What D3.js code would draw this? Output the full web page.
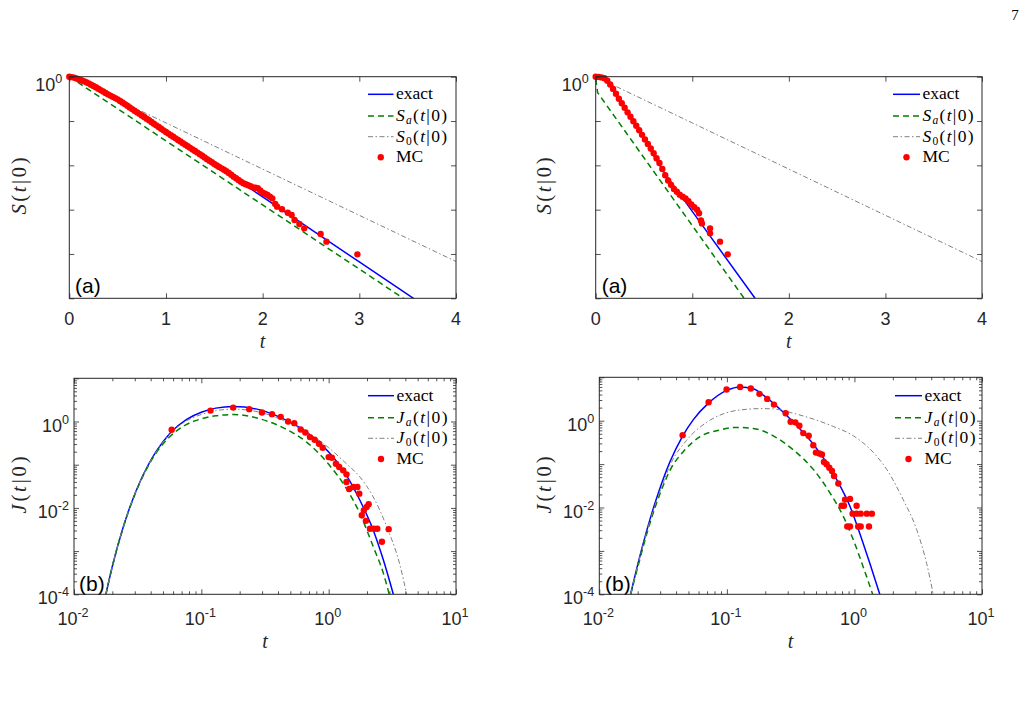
<!DOCTYPE html>
<html>
<head>
<meta charset="utf-8">
<script src="https://cdn.jsdelivr.net/npm/d3@7"></script>
<style>
  body { margin: 0; background: #fff; }
  svg { display: block; }
</style>
</head>
<body>
<div id="fig"></div>
<script>
// ---- data ----
// top left, survival S(t|0)
var tlExactT = [0, 0.05, 0.1, 0.2, 0.3, 0.4, 0.5, 1, 2, 3, 3.6];
var tlExactS = [1, 0.966, 0.891, 0.708, 0.537, 0.407, 0.308, 0.0569, 0.00194, 0.0000661, 0.00000871];
var tlApproxT = [0, 1, 2, 3, 3.5];
var tlApproxS = [1, 0.0357, 0.00128, 0.0000456, 0.00000861];
var tlFreeT = [0, 1, 2, 3, 4];
var tlFreeS = [1, 0.0906, 0.00822, 0.000745, 0.0000676];
var tlMcT = [0, 0.025, 0.05, 0.075, 0.1, 0.125, 0.15, 0.175, 0.2, 0.225, 0.25, 0.275, 0.3, 0.325, 0.35, 0.375, 0.4, 0.425, 0.45, 0.475,
    0.5, 0.525, 0.55, 0.575, 0.6, 0.625, 0.65, 0.675, 0.7, 0.725, 0.75, 0.775, 0.8, 0.825, 0.85, 0.875, 0.9, 0.925, 0.95, 0.975,
    1, 1.025, 1.05, 1.075, 1.1, 1.125, 1.15, 1.175, 1.2, 1.225, 1.25, 1.275, 1.3, 1.325, 1.35, 1.375, 1.4, 1.425, 1.45, 1.475,
    1.5, 1.525, 1.55, 1.575, 1.6, 1.625, 1.65, 1.675, 1.7, 1.725, 1.75, 1.775, 1.8, 1.825, 1.85, 1.875, 1.9, 1.925, 1.95, 1.975,
    2, 2.025, 2.05, 2.075, 2.1, 2.13, 2.15, 2.2, 2.26, 2.3, 2.33, 2.38, 2.43, 2.6, 2.66, 2.98];
var tlMcS = [1, 0.977, 0.955, 0.912, 0.871, 0.832, 0.794, 0.750, 0.708, 0.662, 0.619, 0.576, 0.536, 0.498, 0.462, 0.430, 0.400, 0.375, 0.351, 0.329,
    0.308, 0.284, 0.262, 0.241, 0.222, 0.203, 0.186, 0.171, 0.157, 0.145, 0.133, 0.123, 0.113, 0.104, 0.0951, 0.0871, 0.0798, 0.0732, 0.0671, 0.0616,
    0.0565, 0.0520, 0.0479, 0.0441, 0.0406, 0.0374, 0.0345, 0.0317, 0.0292, 0.0269, 0.0248, 0.0228, 0.0210, 0.0194, 0.0179, 0.0164, 0.0151, 0.0138, 0.0127, 0.0117,
    0.0107, 0.00994, 0.00923, 0.00856, 0.00794, 0.00733, 0.00676, 0.00613, 0.00555, 0.00510, 0.00468, 0.00429, 0.00393, 0.00374, 0.00355, 0.00337, 0.00319, 0.00311, 0.00303, 0.00271,
    0.00242, 0.00228, 0.00214, 0.00196, 0.00180, 0.00134, 0.00117, 0.00102, 0.000855, 0.000759, 0.000585, 0.000475, 0.000379, 0.000282, 0.000190, 0.0000982];

// top right, survival S(t|0)
var trExactT = [0, 0.062, 0.131, 0.2, 0.286, 0.39, 0.494, 0.597, 0.701, 1.0, 1.65];
var trExactS = [1, 0.948, 0.759, 0.459, 0.230, 0.102, 0.0414, 0.0171, 0.00733, 0.000912, 0.00001];
var trApproxT = [0, 0.02, 0.5, 1, 1.54];
var trApproxS = [0.89, 0.437, 0.0148, 0.000437, 0.00000977];
var trFreeT = [0, 1, 2, 3, 4];
var trFreeS = [1, 0.0906, 0.00822, 0.000745, 0.0000676];
var trMcT = [0, 0.03, 0.06, 0.09, 0.12, 0.15, 0.18, 0.21, 0.24, 0.27, 0.3, 0.33, 0.36, 0.39, 0.42, 0.45, 0.48, 0.51,
    0.54, 0.57, 0.6, 0.63, 0.66, 0.69, 0.72, 0.75, 0.78, 0.81, 0.84, 0.87, 0.9, 0.93, 0.96, 0.99, 1.02, 1.05,
    1.07, 1.09, 1.10, 1.184, 1.184, 1.287, 1.367];
var trMcS = [1, 0.989, 0.964, 0.925, 0.815, 0.667, 0.530, 0.411, 0.318, 0.251, 0.199, 0.157, 0.125, 0.0986, 0.0780, 0.0617, 0.0488, 0.0385,
    0.0305, 0.0240, 0.0187, 0.0145, 0.0113, 0.00828, 0.00598, 0.00455, 0.00363, 0.00294, 0.00253, 0.00218, 0.00196, 0.00178, 0.00155, 0.00131, 0.00113, 0.00100,
    0.000832, 0.000571, 0.000490, 0.000379, 0.000292, 0.000190, 0.0000982];

// bottom left, density J(t|0)
var blExactT = [0.0178, 0.02, 0.0244, 0.028, 0.033, 0.0385, 0.0446, 0.0568, 0.0767, 0.1, 0.13, 0.178, 0.289, 0.441, 0.671, 1, 1.38, 1.76, 2.24, 2.69, 3.22];
var blExactJ = [1e-4, 0.000447, 0.00367, 0.0122, 0.0403, 0.102, 0.211, 0.535, 1.12, 1.64, 2.04, 2.22, 1.86, 1.15, 0.568, 0.196, 0.0568, 0.0150, 0.00305, 0.000620, 1e-4];
var blApproxT = [0.0178, 0.02, 0.0244, 0.028, 0.033, 0.0385, 0.0446, 0.0568, 0.0767, 0.1, 0.13, 0.178, 0.289, 0.441, 0.671, 1, 1.38, 1.76, 2.24, 2.69, 2.99];
var blApproxJ = [1e-4, 0.000440, 0.00360, 0.0119, 0.0390, 0.097, 0.196, 0.45, 0.86, 1.15, 1.36, 1.45, 1.15, 0.714, 0.334, 0.102, 0.0279, 0.00740, 0.00126, 0.000305, 1e-4];
var blFreeT = [0.0178, 0.02, 0.0244, 0.028, 0.033, 0.0385, 0.0446, 0.0568, 0.0767, 0.1, 0.13, 0.178, 0.289, 0.441, 0.671, 1, 1.38, 1.76, 2.24, 2.86, 3.63, 4.10];
var blFreeJ = [1e-4, 0.000447, 0.00367, 0.0122, 0.0403, 0.101, 0.207, 0.52, 1.04, 1.45, 1.78, 1.93, 1.64, 1.05, 0.568, 0.247, 0.105, 0.0519, 0.0179, 0.00364, 0.000475, 1e-4];
var blMcT = [0.0585, 0.118, 0.178, 0.238, 0.299, 0.359, 0.420, 0.480, 0.537, 0.603, 0.656, 0.713, 0.776, 0.839, 0.897, 1.0, 1.06, 1.14,
    1.21, 1.30, 1.38, 1.38, 1.45, 1.56, 1.68, 1.74, 1.82, 1.89, 1.99, 2.06, 1.96, 2.11, 2.27, 2.41, 2.62, 2.96];
var blMcJ = [0.642, 1.79, 2.10, 1.93, 1.61, 1.48, 1.28, 1.00, 0.915, 0.654, 0.557, 0.435, 0.377, 0.305, 0.247, 0.150, 0.145, 0.105,
    0.0883, 0.0740, 0.0598, 0.0398, 0.0274, 0.0305, 0.0305, 0.0214, 0.00677, 0.00883, 0.0105, 0.0122, 0.00501, 0.00328, 0.00328, 0.00328, 0.00164, 0.00322];

// bottom right, density J(t|0)
var brExactT = [0.0176, 0.02, 0.0235, 0.0275, 0.0317, 0.0358, 0.045, 0.055, 0.0714, 0.0997, 0.127, 0.161, 0.207, 0.277, 0.374, 0.476, 0.605, 0.725, 0.922, 1.10, 1.32, 1.58];
var brExactJ = [1e-4, 0.00048, 0.00288, 0.0134, 0.0456, 0.113, 0.443, 1.09, 2.51, 5.0, 6.0, 5.43, 3.30, 1.56, 0.641, 0.288, 0.108, 0.0443, 0.0107, 0.00256, 0.000517, 1e-4];
var brApproxT = [0.0176, 0.02, 0.0235, 0.0275, 0.0317, 0.0358, 0.0455, 0.0617, 0.0883, 0.119, 0.161, 0.231, 0.332, 0.476, 0.643, 0.818, 0.980, 1.17, 1.39];
var brApproxJ = [1e-4, 0.00042, 0.0024, 0.0105, 0.032, 0.072, 0.193, 0.428, 0.611, 0.70, 0.664, 0.449, 0.212, 0.0756, 0.0217, 0.00625, 0.00180, 0.000432, 1e-4];
var brFreeT = [0.0176, 0.02, 0.0235, 0.0275, 0.0317, 0.0358, 0.0484, 0.0714, 0.106, 0.143, 0.180, 0.231, 0.332, 0.476, 0.682, 0.980, 1.41, 1.79, 2.41, 3.08, 3.68, 4.15];
var brFreeJ = [1e-4, 0.00046, 0.0027, 0.012, 0.037, 0.093, 0.355, 0.968, 1.61, 1.83, 1.9, 1.87, 1.48, 1.09, 0.739, 0.449, 0.184, 0.0756, 0.0152, 0.00306, 0.000517, 1e-4];
var brMcT = [0.0450, 0.0719, 0.0995, 0.127, 0.154, 0.180, 0.207, 0.234, 0.289, 0.316, 0.344, 0.370, 0.397, 0.438, 0.476, 0.499, 0.531, 0.556, 0.577, 0.605,
    0.635, 0.667, 0.692, 0.748, 0.844, 0.923, 0.794, 0.828, 1.04, 0.968, 1.04, 1.12, 1.25, 1.37, 0.879, 0.923, 1.07, 1.12, 1.30];
var brMcJ = [0.465, 2.66, 5.24, 6.0, 5.5, 4.16, 3.18, 2.35, 1.48, 0.948, 0.915, 0.766, 0.518, 0.449, 0.272, 0.184, 0.175, 0.166, 0.112, 0.0989,
    0.0827, 0.0692, 0.0530, 0.0358, 0.0152, 0.0158, 0.0110, 0.0110, 0.0110, 0.00721, 0.00721, 0.00721, 0.00721, 0.00721, 0.00366, 0.00366, 0.00366, 0.00366, 0.00366];

// ticks
var linXTicks = [0, 1, 2, 3, 4];
var linXLabels = ["0", "1", "2", "3", "4"];
var survYTicks = [1e-5, 1e-4, 1e-3, 1e-2, 1e-1, 1];
var logXTicks = [0.01, 0.1, 1, 10];
var logXExp = ["-2", "-1", "0", "1"];
var logYTicks = [1e-4, 1e-3, 1e-2, 1e-1, 1, 10];
var logYLabelTicks = [1e-4, 1e-2, 1];
var logYExp = ["-4", "-2", "0"];

// ---- drawing ----
var axisColor = "#262626";
var sansFont = "'Liberation Sans', Arial, Helvetica, sans-serif";
var serifFont = "'Liberation Serif', 'Times New Roman', serif";
var blue = "#0000ff", green = "#008000", gray = "#808080", red = "#ff0000";

var svg = d3.select("#fig")
    .append("svg")
    .attr("width", 1027)
    .attr("height", 702);

var clipCount = 0;

function makePanel(box, x, y) {
    var id = "clip" + clipCount++;
    svg.append("clipPath").attr("id", id)
        .append("rect")
        .attr("x", box.x0).attr("y", box.y0)
        .attr("width", box.x1 - box.x0).attr("height", box.y1 - box.y0);
    var g = svg.append("g");
    var under = g.append("g");
    var lines = g.append("g").attr("clip-path", "url(#" + id + ")");
    var dots = g.append("g");
    var over = g.append("g");
    return { box: box, x: x, y: y, under: under, lines: lines, dots: dots, over: over };
}

function tickAxis(g, axis, transform, values, size) {
    g.append("g")
        .attr("transform", transform)
        .call(axis.tickValues(values).tickSize(-size).tickFormat(""))
        .call(function (s) { s.select(".domain").remove(); })
        .selectAll("line")
        .attr("stroke", axisColor)
        .attr("stroke-width", 0.8);
}

function drawFrame(p, xMajor, xMinor, yMajor, yMinor) {
    var b = p.box;
    p.over.append("rect")
        .attr("x", b.x0).attr("y", b.y0)
        .attr("width", b.x1 - b.x0).attr("height", b.y1 - b.y0)
        .attr("fill", "none")
        .attr("stroke", axisColor)
        .attr("stroke-width", 1);
    [[xMajor, 5], [xMinor, 3]].forEach(function (s) {
        if (!s[0].length) return;
        tickAxis(p.over, d3.axisBottom(p.x), "translate(0," + b.y1 + ")", s[0], s[1]);
        tickAxis(p.over, d3.axisTop(p.x), "translate(0," + b.y0 + ")", s[0], s[1]);
    });
    [[yMajor, 5], [yMinor, 3]].forEach(function (s) {
        if (!s[0].length) return;
        tickAxis(p.over, d3.axisLeft(p.y), "translate(" + b.x0 + ",0)", s[0], s[1]);
        tickAxis(p.over, d3.axisRight(p.y), "translate(" + b.x1 + ",0)", s[0], s[1]);
    });
}

function drawLine(p, ts, vs, color, width, dash, curve) {
    var pts = ts.map(function (t, i) { return [t, vs[i]]; });
    p.lines.append("path")
        .datum(pts)
        .attr("d", d3.line()
            .x(function (d) { return p.x(d[0]); })
            .y(function (d) { return p.y(d[1]); })
            .curve(curve))
        .attr("fill", "none")
        .attr("stroke", color)
        .attr("stroke-width", width)
        .attr("stroke-dasharray", dash);
}

function drawDots(p, ts, vs) {
    p.dots.selectAll("circle")
        .data(ts)
        .enter()
        .append("circle")
        .attr("cx", function (d) { return p.x(d); })
        .attr("cy", function (d, i) { return p.y(vs[i]); })
        .attr("r", 3.2)
        .attr("fill", red);
}

function supLabel(g, x, y, anchor, base, sup, size) {
    var t = g.append("text")
        .attr("x", x).attr("y", y)
        .attr("text-anchor", anchor)
        .attr("font-family", sansFont)
        .attr("font-size", size)
        .attr("fill", axisColor);
    t.append("tspan").text(base);
    t.append("tspan").attr("font-size", size * 0.7).attr("dy", -8).text(sup);
}

// spec: [text, kind] with kind r = roman, i = italic, s = subscript, si = italic subscript
function mathText(t, spec, subSize, subShift) {
    var shift = 0;
    spec.forEach(function (part) {
        var ts = t.append("tspan").text(part[0]);
        if (part[1] === "i") ts.attr("font-style", "italic");
        if (part[1] === "s" || part[1] === "si") {
            ts.attr("font-size", subSize).attr("dy", subShift);
            if (part[1] === "si") ts.attr("font-style", "italic");
            shift = subShift;
        } else if (shift) {
            ts.attr("dy", -shift);
            shift = 0;
        }
    });
}

function legend(p, x0, x1, rows, letter) {
    var g = p.over.append("g");
    var styles = [[blue, 1.5, null], [green, 1.5, "6,4"], [gray, 1, "5,2.5,1.5,2.5"]];
    var specs = [
        [["exact", "r"]],
        [[letter, "i"], ["a", "si"], ["(", "r"], ["t", "i"], ["|0)", "r"]],
        [[letter, "i"], ["0", "s"], ["(", "r"], ["t", "i"], ["|0)", "r"]],
        [["MC", "r"]]
    ];
    rows.forEach(function (cy, i) {
        if (i < 3) {
            g.append("line")
                .attr("x1", x0).attr("x2", x1).attr("y1", cy).attr("y2", cy)
                .attr("stroke", styles[i][0])
                .attr("stroke-width", styles[i][1])
                .attr("stroke-dasharray", styles[i][2]);
        } else {
            g.append("circle").attr("cx", (x0 + x1) / 2).attr("cy", cy).attr("r", 3.2).attr("fill", red);
        }
        var t = g.append("text")
            .attr("x", x1 + 2.5).attr("y", cy + 5)
            .attr("font-family", serifFont)
            .attr("font-size", 17.5)
            .attr("fill", "#000");
        if (i === 1 || i === 2) t.attr("textLength", 51).attr("lengthAdjust", "spacing");
        mathText(t, specs[i], 11.5, 3);
    });
}

function yTitle(cx, cy, letter) {
    var t = svg.append("text")
        .attr("transform", "translate(" + (cx + 6.5) + "," + cy + ") rotate(-90)")
        .attr("text-anchor", "middle")
        .attr("font-family", serifFont)
        .attr("font-size", 20.5)
        .attr("textLength", 57)
        .attr("lengthAdjust", "spacing")
        .attr("fill", axisColor);
    mathText(t, [[letter, "i"], ["(", "r"], ["t", "i"], ["|0)", "r"]], 13, 4);
}

function xTitle(cx, baseY) {
    svg.append("text")
        .attr("x", cx).attr("y", baseY)
        .attr("text-anchor", "middle")
        .attr("font-family", serifFont)
        .attr("font-style", "italic")
        .attr("font-size", 20)
        .attr("fill", axisColor)
        .text("t");
}

function panelTag(p, x, y, txt) {
    p.under.append("text")
        .attr("x", x).attr("y", y)
        .attr("font-family", sansFont)
        .attr("font-size", 21)
        .attr("fill", "#000")
        .text(txt);
}

// minor ticks for log axes
function minorTicks(majors) {
    var out = [];
    majors.slice(0, -1).forEach(function (m) {
        for (var k = 2; k <= 9; k++) out.push(m * k);
    });
    return out;
}

// ---- survival panels ----
function survivalPanel(box, exT, exS, apT, apS, frT, frS, mcT, mcS, tagX, titleX) {
    var x = d3.scaleLinear().domain([0, 4]).range([box.x0, box.x1]);
    var y = d3.scaleLog().domain([1e-5, 1]).range([box.y1, box.y0]);
    var p = makePanel(box, x, y);
    panelTag(p, tagX, 293, "(a)");
    drawLine(p, exT, exS, blue, 1.5, null, d3.curveLinear);
    drawLine(p, apT, apS, green, 1.5, "6,4", d3.curveLinear);
    drawLine(p, frT, frS, gray, 1, "5,2.5,1.5,2.5", d3.curveLinear);
    drawDots(p, mcT, mcS);
    drawFrame(p, linXTicks, [], survYTicks, []);
    linXTicks.forEach(function (v, i) {
        p.over.append("text")
            .attr("x", x(v)).attr("y", 324.5)
            .attr("text-anchor", "middle")
            .attr("font-family", sansFont)
            .attr("font-size", 18)
            .attr("fill", axisColor)
            .text(linXLabels[i]);
    });
    supLabel(p.over, box.x0 - 7, box.y0 + 14, "end", "10", "0", 18);
    xTitle((box.x0 + box.x1) / 2, 348);
    yTitle(titleX, 186, "S");
    return p;
}

var pTL = survivalPanel({ x0: 69.3, y0: 76.7, x1: 456, y1: 298.3 },
    tlExactT, tlExactS, tlApproxT, tlApproxS, tlFreeT, tlFreeS, tlMcT, tlMcS, 75, 19);
legend(pTL, 368, 393.5, [94.3, 116, 136.7, 157.3], "S");

var pTR = survivalPanel({ x0: 595.7, y0: 76.7, x1: 982, y1: 298.3 },
    trExactT, trExactS, trApproxT, trApproxS, trFreeT, trFreeS, trMcT, trMcS, 601.7, 544);
legend(pTR, 893, 920, [94.3, 116, 136.7, 157.3], "S");

// ---- density panels ----
function densityPanel(box, exT, exJ, apT, apJ, frT, frJ, mcT, mcJ, tagX, titleX) {
    var x = d3.scaleLog().domain([0.01, 10]).range([box.x0, box.x1]);
    var y = d3.scaleLog().domain([1e-4, 10]).range([box.y1, box.y0]);
    var p = makePanel(box, x, y);
    panelTag(p, tagX, 590.5, "(b)");
    drawLine(p, exT, exJ, blue, 1.5, null, d3.curveMonotoneX);
    drawLine(p, apT, apJ, green, 1.5, "6,4", d3.curveMonotoneX);
    drawLine(p, frT, frJ, gray, 1, "5,2.5,1.5,2.5", d3.curveMonotoneX);
    drawDots(p, mcT, mcJ);
    drawFrame(p, logXTicks, minorTicks(logXTicks), logYTicks, minorTicks(logYTicks));
    logXTicks.forEach(function (v, i) {
        supLabel(p.over, x(v) - 1, 624.5, "middle", "10", logXExp[i], 18);
    });
    logYLabelTicks.forEach(function (v, i) {
        supLabel(p.over, box.x0 - 5, y(v) + 10, "end", "10", logYExp[i], 18);
    });
    xTitle((box.x0 + box.x1) / 2, 648);
    yTitle(titleX, 485, "J");
    return p;
}

var pBL = densityPanel({ x0: 74, y0: 378.3, x1: 456, y1: 594.3 },
    blExactT, blExactJ, blApproxT, blApproxJ, blFreeT, blFreeJ, blMcT, blMcJ, 79, 19);
legend(pBL, 368, 394, [395.7, 417.7, 438.3, 459], "J");

var pBR = densityPanel({ x0: 599.3, y0: 377.3, x1: 982, y1: 594.3 },
    brExactT, brExactJ, brApproxT, brApproxJ, brFreeT, brFreeJ, brMcT, brMcJ, 605, 544);
legend(pBR, 895, 922, [395.7, 417.7, 438.3, 459], "J");

// page number
svg.append("text")
    .attr("x", 1015).attr("y", 20)
    .attr("text-anchor", "middle")
    .attr("font-family", serifFont)
    .attr("font-size", 15)
    .attr("fill", "#000")
    .text("7");
</script>
</body>
</html>
